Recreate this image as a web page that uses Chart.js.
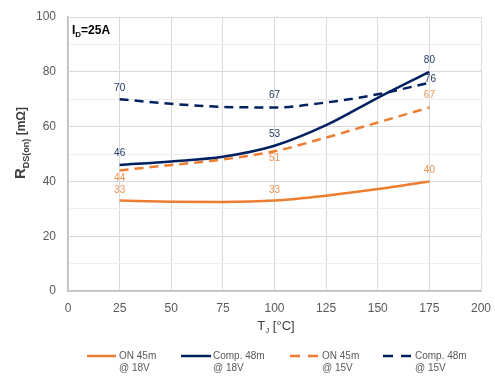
<!DOCTYPE html>
<html>
<head>
<meta charset="utf-8">
<script src="https://cdn.jsdelivr.net/npm/chart.js@4.4.1/dist/chart.umd.min.js"></script>
<style>
html,body{margin:0;padding:0;background:#fff;}
#wrap{width:495px;height:389px;position:relative;}
</style>
</head>
<body>
<div id="wrap"><canvas id="c" width="495" height="389"></canvas></div>
<script>
// ---- data ----
const temps = [25, 50, 75, 100, 125, 150, 175];
const on45_18 = [33, 32.6, 32.5, 33, 34.8, 37.2, 40];
const comp48_18 = [46, 47.3, 49, 53, 60.5, 70.5, 80];
const on45_15 = [44, 46, 48, 51, 56, 61.5, 67];
const comp48_15 = [70, 68.3, 67.2, 67, 68.8, 71.8, 76];
const labelTemps = [25, 100, 175];
const seriesNames = [["ON 45m", "@ 18V"], ["Comp. 48m", "@ 18V"], ["ON 45m", "@ 15V"], ["Comp. 48m", "@ 15V"]];
const xTicks = [0, 25, 50, 75, 100, 125, 150, 175, 200];
const yTicks = [0, 20, 40, 60, 80, 100];

const ORANGE = '#ED7D31', NAVY = '#002060';
const FONT = "'Liberation Sans', Arial, sans-serif";

function pts(arr){ return temps.map((t,i)=>({x:t, y:arr[i]})); }

const styles = [
  {color: ORANGE, dash: [], lbl: '#EE9352', off: [[0,-10],[0,-10],[0,-11]]},
  {color: NAVY, dash: [], lbl: '#1F3864', off: [[0,-12],[0,-12],[0,-12]]},
  {color: ORANGE, dash: [9,6], lbl: '#EE9352', off: [[0,8],[0,7],[0,-12]]},
  {color: NAVY, dash: [9,6], lbl: '#1F3864', off: [[0,-11],[0,-12],[1,-4]]},
];
const seriesData = [on45_18, comp48_18, on45_15, comp48_15];

const datasets = seriesData.map((arr,i)=>({
  label: seriesNames[i].join(' '),
  data: pts(arr),
  borderColor: styles[i].color,
  backgroundColor: styles[i].color,
  borderWidth: 2.5,
  borderDash: styles[i].dash,
  pointRadius: 0,
  cubicInterpolationMode: 'monotone',
  fill: false
}));

const extras = {
  id: 'extras',
  afterDatasetsDraw(chart){
    const ctx = chart.ctx;
    ctx.save();
    ctx.font = "10px " + FONT;
    ctx.textAlign = 'center';
    ctx.textBaseline = 'middle';
    chart.data.datasets.forEach((ds, di)=>{
      const meta = chart.getDatasetMeta(di);
      labelTemps.forEach((t, k)=>{
        const idx = temps.indexOf(t);
        const p = meta.data[idx];
        const o = styles[di].off[k];
        ctx.fillStyle = styles[di].lbl;
        ctx.fillText(String(Math.round(seriesData[di][idx])), p.x + o[0], p.y + o[1]);
      });
    });
    ctx.fillStyle = '#000';
    ctx.textAlign = 'left';
    ctx.textBaseline = 'alphabetic';
    let x = 72, y = 34;
    ctx.font = "bold 12px " + FONT;
    ctx.fillText('I', x, y); x += ctx.measureText('I').width;
    ctx.font = "bold 8px " + FONT;
    ctx.fillText('D', x, y + 3); x += ctx.measureText('D').width;
    ctx.font = "bold 12px " + FONT;
    ctx.fillText('=25A', x, y);
    ctx.restore();
  },
  afterDraw(chart){
    const ctx = chart.ctx;
    ctx.save();
    ctx.fillStyle = '#404040';
    ctx.textBaseline = 'alphabetic';
    ctx.textAlign = 'left';
    const parts = [["R","bold 15px "+FONT,0],["DS(on)","bold 9px "+FONT,4],[" [mΩ]","bold 12px "+FONT,0]];
    let total = 0;
    parts.forEach(p=>{ ctx.font = p[1]; p.w = ctx.measureText(p[0]).width; total += p.w; });
    ctx.translate(25, 143);
    ctx.rotate(-Math.PI/2);
    let px = -total/2;
    parts.forEach(p=>{ ctx.font = p[1]; ctx.fillText(p[0], px, p[2]); px += p.w; });
    ctx.setTransform(1,0,0,1,0,0);
    const xp = [["T","13px "+FONT,0],["J","8px "+FONT,3],[" [°C]","13px "+FONT,0]];
    total = 0;
    xp.forEach(p=>{ ctx.font = p[1]; p.w = ctx.measureText(p[0]).width; total += p.w; });
    px = 276 - total/2;
    xp.forEach(p=>{ ctx.font = p[1]; ctx.fillText(p[0], px, 330 + p[2]); px += p.w; });
    const items = [
      {x0: 87, x1: 116, tx: 119},
      {x0: 181, x1: 211, tx: 213},
      {x0: 290, x1: 318, tx: 322},
      {x0: 383, x1: 412, tx: 415},
    ];
    items.forEach((it, i)=>{
      ctx.strokeStyle = styles[i].color;
      ctx.lineWidth = 2.5;
      ctx.setLineDash(styles[i].dash.length ? [10, 8] : []);
      ctx.beginPath();
      ctx.moveTo(it.x0, 356); ctx.lineTo(it.x1, 356);
      ctx.stroke();
      ctx.setLineDash([]);
      ctx.fillStyle = '#595959';
      ctx.font = "10px " + FONT;
      ctx.textBaseline = 'middle';
      ctx.fillText(seriesNames[i][0], it.tx, 356);
      ctx.fillText(seriesNames[i][1], it.tx, 368);
    });
    ctx.restore();
  }
};

new Chart(document.getElementById('c'), {
  type: 'line',
  data: { datasets },
  options: {
    responsive: false,
    animation: false,
    layout: { padding: { top: 17, right: 14, left: 0, bottom: 0 } },
    plugins: { legend: { display: false }, tooltip: { enabled: false } },
    scales: {
      x: {
        type: 'linear', min: 0, max: 200,
        afterBuildTicks(s){ s.ticks = xTicks.map(v=>({value:v})); },
        afterFit(s){ s.height = 98; },
        ticks: { color: '#595959', font: { size: 12, family: FONT }, padding: 0, maxRotation: 0 },
        grid: { color: '#d9d9d9', drawTicks: true, tickLength: 10, tickColor: 'rgba(0,0,0,0)' },
        border: { color: '#bfbfbf', width: 1.5 }
      },
      y: {
        min: 0, max: 100,
        ticks: { stepSize: 5, color: '#595959', font: { size: 12, family: FONT }, padding: 0,
          callback: v => yTicks.includes(v) ? String(v) : '' },
        afterFit(s){ s.width = 68; },
        grid: { color: c => (c.tick && yTicks.includes(c.tick.value)) ? '#d9d9d9' : '#eeeeee',
          drawTicks: true, tickLength: 12, tickColor: 'rgba(0,0,0,0)' },
        border: { color: '#bfbfbf', width: 1.5 }
      }
    }
  },
  plugins: [extras]
});
</script>
</body>
</html>
